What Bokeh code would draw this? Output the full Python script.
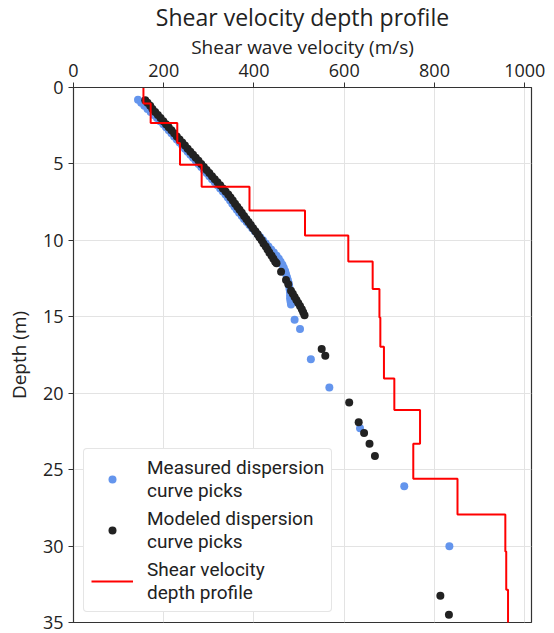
from bokeh.plotting import figure
from bokeh.models import Range1d, FixedTicker, Legend, LegendItem
from bokeh.embed import file_html
from bokeh.resources import INLINE

# ---- data ----
# Measured dispersion curve picks (velocity m/s, depth m)
meas_v = [143, 150, 157, 164, 171, 178, 185, 192, 199, 205, 211, 217, 223, 229, 235, 241,
          247, 253, 259, 265, 271, 277, 283, 289, 295, 301, 307, 313, 319, 325, 331, 337,
          342, 347, 352, 357, 362, 367, 373, 378, 384, 390, 396, 402, 408, 414, 420, 426,
          432, 438, 444, 450, 455, 459, 463, 466, 469, 471, 473, 475, 477, 478, 479, 480,
          480, 480, 481, 482, 490, 502, 526, 567, 635, 733, 833]
meas_d = [0.8, 1.0, 1.2, 1.4, 1.6, 1.8, 2.0, 2.2, 2.4, 2.6, 2.8, 3.0, 3.2, 3.4, 3.6, 3.8,
          4.0, 4.2, 4.4, 4.6, 4.8, 5.0, 5.2, 5.4, 5.6, 5.8, 6.0, 6.2, 6.4, 6.6, 6.8, 7.0,
          7.2, 7.4, 7.6, 7.8, 8.0, 8.2, 8.4, 8.6, 8.8, 9.0, 9.2, 9.4, 9.6, 9.8, 10.0, 10.2,
          10.4, 10.6, 10.8, 11.0, 11.2, 11.4, 11.6, 11.8, 12.0, 12.2, 12.4, 12.6, 12.8, 13.0, 13.2, 13.4,
          13.6, 13.8, 14.0, 14.2, 15.2, 15.8, 17.77, 19.63, 22.3, 26.08, 30.01]

# Modeled dispersion curve picks
model_v = [159, 164, 170, 175, 181, 187, 193, 199, 205, 211, 217, 223, 229, 235, 241, 247,
           253, 259, 265, 271, 277, 283, 289, 295, 301, 307, 313, 319, 325, 331, 337, 343,
           348, 353, 358, 363, 368, 373, 378, 383, 388, 393, 398, 403, 408, 412, 417, 421,
           426, 430, 434, 439, 443, 447, 450, 460, 471, 476, 482, 486, 490, 494, 498, 502,
           506, 509, 512, 550, 558, 611, 632, 644, 656, 668, 813, 832]
model_d = [0.83, 1.0, 1.2, 1.4, 1.6, 1.8, 2.0, 2.2, 2.4, 2.6, 2.8, 3.0, 3.2, 3.4, 3.6, 3.8,
           4.0, 4.2, 4.4, 4.6, 4.8, 5.0, 5.2, 5.4, 5.6, 5.8, 6.0, 6.2, 6.4, 6.6, 6.8, 7.0,
           7.2, 7.4, 7.6, 7.8, 8.0, 8.2, 8.4, 8.6, 8.8, 9.0, 9.2, 9.4, 9.6, 9.8, 10.0, 10.2,
           10.4, 10.6, 10.8, 11.0, 11.2, 11.4, 11.5, 12.05, 12.6, 12.87, 13.3, 13.5, 13.7, 13.9, 14.1, 14.3,
           14.5, 14.7, 14.9, 17.1, 17.55, 20.6, 21.9, 22.6, 23.3, 24.1, 33.25, 34.5]

# Shear velocity depth profile (layered model)
layer_vs = [155, 171, 230, 236, 284, 390, 513, 609, 663, 678, 680, 688, 711, 768, 753,
            851, 957, 959, 963]
layer_top = [0, 1.05, 2.32, 3.63, 5.05, 6.5, 8.05, 9.68, 11.39, 13.18, 15.04, 16.96,
             19.04, 21.1, 23.3, 25.6, 27.93, 30.36, 32.85]
layer_bottom = layer_top[1:] + [36.0]

x_ticks = [0, 200, 400, 600, 800, 1000]
y_ticks = [0, 5, 10, 15, 20, 25, 30, 35]

# step path built from the layer table
prof_x, prof_y = [], []
for v, t, b in zip(layer_vs, layer_top, layer_bottom):
    prof_x += [v, v]
    prof_y += [t, b]

FONT = "Open Sans"
TXT = "#222222"

p = figure(width=554, height=633, output_backend="svg", toolbar_location=None,
           x_range=Range1d(0, 1015), y_range=Range1d(35, 0),
           x_axis_location="above", title="Shear velocity depth profile",
           min_border_left=73, min_border_right=23, min_border_top=0, min_border_bottom=11)

p.title.align = "center"
p.title.text_font = FONT
p.title.text_font_size = "23px"
p.title.text_font_style = "normal"
p.title.text_color = TXT
p.title.standoff = -4

p.outline_line_color = "#333333"
p.outline_line_width = 1.2
p.background_fill_color = "white"
p.border_fill_color = "white"

for ax, ticks in ((p.xaxis[0], x_ticks), (p.yaxis[0], y_ticks)):
    ax.ticker = FixedTicker(ticks=ticks)
    ax.minor_tick_line_color = None
    ax.major_tick_in = 0
    ax.major_tick_out = 5
    ax.major_tick_line_color = "#333333"
    ax.axis_line_color = "#333333"
    ax.major_label_text_font = FONT
    ax.major_label_text_font_size = "18px"
    ax.major_label_text_color = TXT
    ax.axis_label_text_font = FONT
    ax.axis_label_text_font_size = "19px"
    ax.axis_label_text_font_style = "normal"
    ax.axis_label_text_color = TXT

p.xaxis.axis_label = "Shear wave velocity (m/s)"
p.yaxis.axis_label = "Depth (m)"
p.xaxis.axis_label_standoff = 1
p.xaxis.major_label_standoff = 6
p.yaxis.major_label_standoff = 5
p.yaxis.axis_label_standoff = 8

p.xgrid.ticker = FixedTicker(ticks=x_ticks)
p.ygrid.ticker = FixedTicker(ticks=y_ticks)
p.grid.grid_line_color = "#e3e3e3"
p.grid.grid_line_width = 1

r_meas = p.scatter(meas_v, meas_d, size=8, color="#6495ED", line_color=None)
r_model = p.scatter(model_v, model_d, size=8, color="#222222", line_color=None)
r_prof = p.line(prof_x, prof_y, line_color="#ff0000", line_width=2)

legend = Legend(items=[
    LegendItem(label="Measured dispersion\ncurve picks", renderers=[r_meas]),
    LegendItem(label="Modeled dispersion\ncurve picks", renderers=[r_model]),
    LegendItem(label="Shear velocity\ndepth profile", renderers=[r_prof]),
], location="bottom_left")
legend.label_text_font = "Roboto"
legend.label_text_font_size = "19px"
legend.label_text_color = TXT
legend.border_line_color = "#cccccc"
legend.border_radius = 4
legend.background_fill_alpha = 1.0
legend.margin = 10
legend.padding = 7
legend.spacing = 5
legend.glyph_width = 42
legend.label_standoff = 14
p.add_layout(legend)

open("out.html", "w").write(file_html(p, INLINE))
